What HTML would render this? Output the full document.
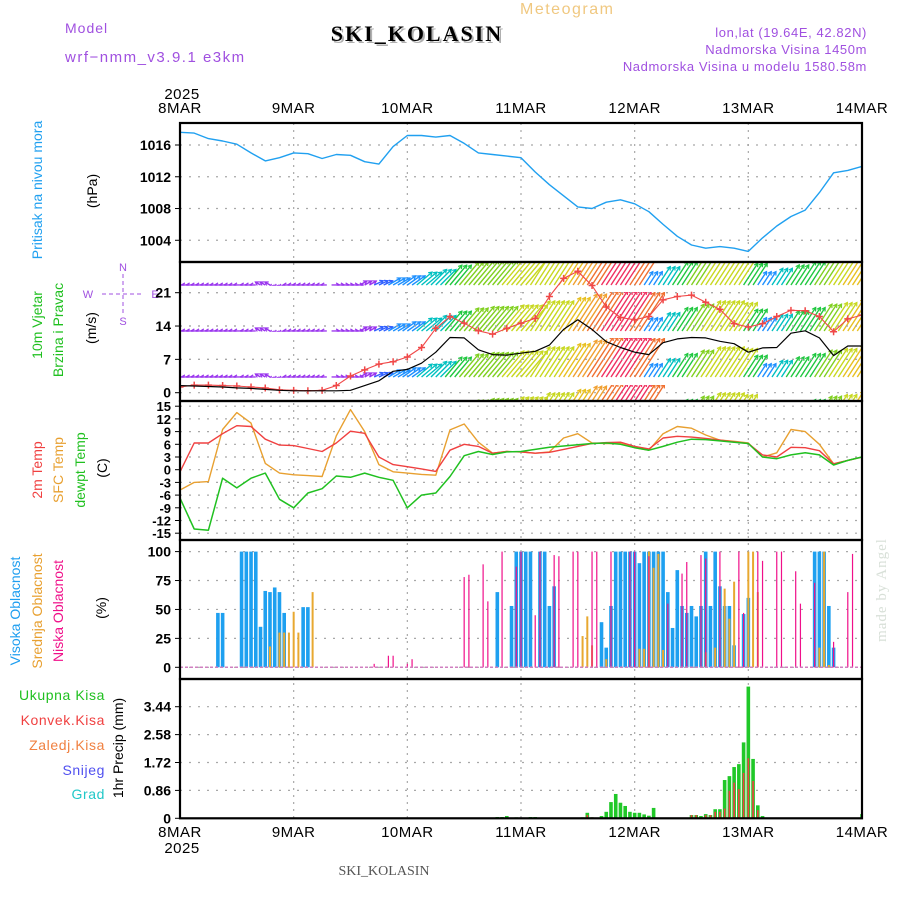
<!DOCTYPE html>
<html><head><meta charset="utf-8">
<style>
html,body{margin:0;padding:0;background:#fff;}
svg{display:block;font-family:"Liberation Sans",sans-serif;}
</style></head>
<body>
<svg id="chart" width="900" height="900" viewBox="0 0 900 900" xmlns="http://www.w3.org/2000/svg">
<defs>
<clipPath id="cW"><rect x="180" y="262" width="682" height="139"/></clipPath>
<clipPath id="cAll"><rect x="180" y="123" width="682" height="696"/></clipPath>
</defs>
<rect x="0" y="0" width="900" height="900" fill="#fff"/>
<!-- header -->
<text x="65" y="33" font-size="14" fill="#a050e0" letter-spacing="1">Model</text>
<text x="65" y="62" font-size="15" fill="#a050e0" letter-spacing="1.5">wrf−nmm_v3.9.1 e3km</text>
<text x="520" y="14" font-size="16" fill="#f0c880" letter-spacing="1.5">Meteogram</text>
<text x="419" y="43" font-size="22" font-weight="bold" text-anchor="middle" fill="#b0b0b0" letter-spacing="2" font-family="Liberation Serif, serif">SKI_KOLASIN</text>
<text x="417" y="41" font-size="22" font-weight="bold" text-anchor="middle" fill="#000" letter-spacing="2" font-family="Liberation Serif, serif">SKI_KOLASIN</text>
<text x="867" y="37" font-size="13" fill="#a050e0" text-anchor="end" letter-spacing="0.6">lon,lat (19.64E, 42.82N)</text>
<text x="867" y="54" font-size="13" fill="#a050e0" text-anchor="end" letter-spacing="0.6">Nadmorska Visina 1450m</text>
<text x="867" y="71" font-size="13" fill="#a050e0" text-anchor="end" letter-spacing="0.6">Nadmorska Visina u modelu 1580.58m</text>
<text x="182" y="99" font-size="15" text-anchor="middle" letter-spacing="0.5">2025</text>
<text x="182" y="853" font-size="15" text-anchor="middle" letter-spacing="0.5">2025</text>
<text x="384" y="875" font-size="14" text-anchor="middle" fill="#555" font-family="Liberation Serif, serif">SKI_KOLASIN</text>
<text transform="translate(886,590) rotate(-90)" font-size="15" text-anchor="middle" fill="#d8e0d8" font-family="Liberation Serif, serif" letter-spacing="1">made by Angel</text>

<!-- left axis titles -->
<text transform="translate(42,190) rotate(-90)" font-size="14" fill="#20a0f0" text-anchor="middle">Pritisak na nivou mora</text>
<text transform="translate(97,191) rotate(-90)" font-size="14" text-anchor="middle">(hPa)</text>
<text transform="translate(42,325) rotate(-90)" font-size="14" fill="#20c020" text-anchor="middle">10m Vjetar</text>
<text transform="translate(63,330) rotate(-90)" font-size="14" fill="#20c020" text-anchor="middle">Brzina i Pravac</text>
<text transform="translate(96,328) rotate(-90)" font-size="14" text-anchor="middle">(m/s)</text>
<g fill="#a050e0" font-size="11" text-anchor="middle">
<text x="123" y="271">N</text><text x="88" y="298">W</text><text x="155" y="298">E</text><text x="123" y="325">S</text>
<line x1="102" y1="294" x2="144" y2="294" stroke="#a050e0" stroke-dasharray="4,3"/>
<line x1="123" y1="274" x2="123" y2="315" stroke="#a050e0" stroke-dasharray="4,3"/>
</g>
<text transform="translate(42,470) rotate(-90)" font-size="14" fill="#f04040" text-anchor="middle">2m Temp</text>
<text transform="translate(63,470) rotate(-90)" font-size="14" fill="#e8a030" text-anchor="middle">SFC Temp</text>
<text transform="translate(85,470) rotate(-90)" font-size="14" fill="#20c020" text-anchor="middle">dewpt Temp</text>
<text transform="translate(107,468) rotate(-90)" font-size="14" text-anchor="middle">(C)</text>
<text transform="translate(20,611) rotate(-90)" font-size="14" fill="#1e9ef0" text-anchor="middle">Visoka Oblacnost</text>
<text transform="translate(42,611) rotate(-90)" font-size="14" fill="#e8a030" text-anchor="middle">Srednja Oblacnost</text>
<text transform="translate(63,611) rotate(-90)" font-size="14" fill="#f0108a" text-anchor="middle">Niska Oblacnost</text>
<text transform="translate(106,608) rotate(-90)" font-size="14" text-anchor="middle">(%)</text>
<g font-size="14" text-anchor="end" letter-spacing="0.6">
<text x="105" y="700" fill="#20c020">Ukupna Kisa</text>
<text x="105" y="725" fill="#f04040">Konvek.Kisa</text>
<text x="105" y="750" fill="#f08040">Zaledj.Kisa</text>
<text x="105" y="775" fill="#5050f0">Snijeg</text>
<text x="105" y="799" fill="#20c8c8">Grad</text>
</g>
<text transform="translate(123,748) rotate(-90)" font-size="14" text-anchor="middle">1hr Precip (mm)</text>

<g id="grid"></g>
<g id="bars" clip-path="url(#cAll)"></g>
<g id="wind" clip-path="url(#cW)"></g>
<g id="lines" clip-path="url(#cAll)"></g>
<g id="frames"></g>
<g id="labels"></g>
</svg>
<script>
// ---- data ----
const dayLabels=['8MAR','9MAR','10MAR','11MAR','12MAR','13MAR','14MAR'];
const pressTicks=[1016,1012,1008,1004];
const windTicks=[21,14,7,0];
const tempTicks=[15,12,9,6,3,0,-3,-6,-9,-12,-15];
const cloudTicks=[100,75,50,25,0];
const precipTicks=[3.44,2.58,1.72,0.86,0];
// 3-hourly series (49 points, 8MAR 00z .. 14MAR 00z)
const pressure=[1017.6,1017.5,1016.8,1016.5,1016.1,1015.0,1014.0,1014.4,1015.0,1014.9,1014.3,1014.8,1014.7,1013.9,1013.6,1015.8,1017.2,1017.2,1017.0,1017.2,1016.2,1015.0,1014.8,1014.6,1014.4,1012.6,1011.0,1009.6,1008.2,1008.0,1008.8,1009.1,1008.6,1007.6,1006.0,1004.5,1003.4,1003.0,1003.2,1003.0,1002.6,1004.3,1005.8,1007.0,1007.8,1010.0,1012.5,1012.8,1013.3];
const windSpeed=[1.5,1.4,1.3,1.2,1.0,0.9,0.7,0.5,0.4,0.4,0.4,0.4,0.5,1.5,2.5,4.5,4.9,6.2,8.5,11.6,11.5,9.0,8.0,7.9,8.3,8.7,10.0,13.3,15.3,13.3,10.7,9.5,8.5,8.0,10.5,11.3,11.6,11.5,10.8,10.3,8.5,9.4,9.5,12.5,13.0,11.5,7.8,9.8,9.8];
const windGust=[1.2,1.6,1.6,1.5,1.4,1.2,1.0,0.6,0.5,0.4,0.5,1.5,3.5,4.8,6.0,6.5,7.5,9.5,13.5,16.0,14.6,13.0,12.3,13.5,14.6,15.6,20.2,24.0,25.5,22.5,18.0,15.8,15.3,16.0,19.5,20.2,20.5,19.0,17.5,14.5,13.8,14.5,16.0,17.3,17.2,16.0,12.8,15.5,16.3];
const arrowSpeed=[4,4,4,4,4,3,3,3,3,3,3,4,4,4,5,7,8,10,11,13,15,16,16,17,17,18,18,20,22,24,25,25,23,8,11,14,16,18,18,17,13,8,10,12,14,16,17,19,19];
const arrowDir=[270,270,270,270,270,270,300,250,270,270,270,90,90,60,65,60,55,50,45,40,40,40,40,40,40,33,33,33,33,33,33,33,33,33,33,33,33,33,33,33,33,33,33,33,33,33,33,33,33];
const temp2m=[-0.5,6.3,6.3,8.5,10.4,10.2,7.2,5.8,5.7,5.0,4.3,6.3,9.1,8.6,3.0,1.2,0.7,0.2,-0.4,4.6,6.0,5.5,3.9,4.3,4.2,3.9,4.1,4.8,5.5,6.2,6.4,6.5,5.5,4.9,7.5,7.9,7.7,7.4,7.0,6.6,6.2,3.5,3.0,5.3,5.2,4.5,1.4,2.2,3.0];
const tempSfc=[-4.8,-3.0,-2.8,9.5,13.5,11.0,1.5,-0.8,-1.2,-1.4,-1.6,8.0,14.2,9.0,1.2,-0.5,-0.8,-1.1,-1.3,9.4,10.8,6.5,3.9,4.3,4.2,3.9,4.2,7.5,8.5,6.3,6.2,6.2,5.2,4.6,8.5,10.2,9.8,8.2,7.0,6.7,6.3,3.0,4.0,9.5,9.0,6.0,1.4,2.2,3.0];
const tempDew=[-6.7,-14.0,-14.3,-2.0,-4.3,-2.0,-0.8,-7.0,-9.0,-5.5,-4.5,-1.5,-1.8,-0.8,-1.8,-2.5,-9.0,-6.0,-5.5,-1.6,3.3,4.3,3.6,4.2,4.3,4.8,5.3,5.6,5.9,6.2,6.3,6.0,5.2,4.6,5.5,6.5,7.2,7.1,6.8,6.5,6.2,3.0,2.6,3.5,4.0,3.5,1.1,2.2,3.0];
// hourly cloud cover (hour index from 8MAR 00z, percent)
const highHours=[8,9,13,14,15,16,17,18,19,20,21,22,26,27,67,70,71,72,73,74,76,77,78,79,89,90,91,92,93,94,95,96,97,98,99,100,101,102,103,104,105,106,107,108,109,110,111,112,113,114,115,116,117,119,120,134,135,136,137,138];
const highVals=[47,47,100,100,100,100,35,66,65,69,65,47,52,52,65,53,100,100,100,100,100,100,53,70,39,17,53,100,100,100,100,100,90,100,100,100,100,100,65,34,84,53,47,53,44,53,100,53,100,70,53,53,19,46,60,100,100,100,53,17];
const midHours=[19,21,22,23,24,25,28,85,86,87,90,97,98,99,100,101,102,111,113,115,116,117,120,121,122,135,136,137];
const midVals=[18,30,30,30,48,30,65,27,44,19,7,16,16,100,86,98,15,13,17,68,42,74,100,100,65,17,100,2];
const lowHours=[41,44,45,48,49,60,61,64,65,68,71,72,75,76,79,80,83,84,87,88,91,95,96,99,103,106,107,110,111,114,118,119,122,123,126,127,130,131,134,138,141,142];
const lowVals=[3,10,10,3,7,78,80,89,57,100,87,100,45,100,97,96,100,100,100,100,100,100,100,96,55,81,91,97,94,100,100,47,100,92,100,100,83,55,73,22,65,98];
// hourly precipitation (mm)
const rainHours=[67,68,69,71,74,75,85,86,87,89,90,91,92,93,94,95,96,97,98,99,100,108,109,110,111,112,113,114,115,116,117,118,119,120,121,122,123,144];
const rainTotal=[0.04,0.04,0.07,0.03,0.04,0.04,0.03,0.17,0.03,0.07,0.2,0.5,0.75,0.48,0.38,0.2,0.17,0.17,0.12,0.08,0.32,0.1,0.1,0.07,0.13,0.1,0.28,0.28,1.18,1.3,1.58,1.67,2.34,4.06,1.83,0.4,0.07,0.13];
const convHours=[86,87,108,109,111,112,113,114,115,116,117,118,119,120,121,122];
const convVals=[0.1,0.03,0.1,0.1,0.1,0.1,0.2,0.2,0.3,0.85,1.1,0.9,1.4,1.85,1.15,0.25];

// ---- scales ----
const X0=180,X1=862;
const xH=h=>X0+h*(X1-X0)/144;
const xI=i=>xH(i*3);
const yP=p=>145+(1016-p)*7.94;
const yW=v=>392.7-v*4.762;
const yT=t=>469.7-t*4.233;
const yC=c=>667.3-c*1.157;
const yR=r=>818.3-r*32.44;
const panels=[[123,262,'pressure'],[262,401,'wind'],[401,540,'temperature'],[540,679,'cloud'],[679,818.3,'precip']];
const NS='http://www.w3.org/2000/svg';
function mk(tag,attrs,parent){const e=document.createElementNS(NS,tag);for(const k in attrs)e.setAttribute(k,attrs[k]);parent.appendChild(e);return e;}
const G=id=>document.getElementById(id);
const grid=G('grid'),bars=G('bars'),wind=G('wind'),lines=G('lines'),frames=G('frames'),labels=G('labels');

// grid
function hgrid(vals,fy,name,fmt){vals.forEach(v=>{const y=fy(v);
 const l=mk('line',{x1:X0,x2:X1,y1:y,y2:y,stroke:'#a8a8a8','stroke-dasharray':'2,7','stroke-width':1.2},grid);
 
 
 const tk=mk('line',{x1:X0-5,x2:X0,y1:y,y2:y,stroke:'#000'},grid);
 
 
 const t=mk('text',{x:X0-9,y:y+5,'text-anchor':'end','font-size':fmt||14,'font-weight':'bold'},labels);
 t.textContent=String(v);
 
 
});}
hgrid(pressTicks,yP,'pressure',14);
hgrid(windTicks,yW,'wind',14);
hgrid(tempTicks,yT,'temperature',13);
hgrid(cloudTicks,yC,'cloud',14);
hgrid(precipTicks,yR,'precip',14);
for(let d=1;d<6;d++){const x=xH(d*24);
 const l=mk('line',{x1:x,x2:x,y1:123,y2:818,stroke:'#a8a8a8','stroke-dasharray':'2,5','stroke-width':1.2},grid);
 
 }
dayLabels.forEach((d,i)=>{const x=xH(i*24);
 [[113],[837]].forEach(([y])=>{const t=mk('text',{x:x,y:y,'text-anchor':'middle','font-size':15,'letter-spacing':0.5},labels);
 t.textContent=d;
 
 });
});

// cloud bars
function cbars(hours,vals,w,color,name){hours.forEach((h,i)=>{const x=xH(h),y=yC(vals[i]);
 const r=mk('rect',{x:x-w/2,y:y,width:w,height:yC(0)-y,fill:color},bars);
 
 });}
cbars(highHours,highVals,3.6,'#1ea0f0','high-cloud-bar');
cbars(midHours,midVals,2,'#e8a830','mid-cloud-bar');
cbars(lowHours,lowVals,1.2,'#f0108a','low-cloud-bar');
const zl=mk('line',{x1:X0,x2:X1,y1:yC(0),y2:yC(0),stroke:'#d080c0','stroke-width':1.5,'stroke-dasharray':'3,2'},bars);


// precip bars
rainHours.forEach((h,i)=>{const x=xH(h),y=yR(rainTotal[i]);
 const r=mk('rect',{x:x-1.8,y:y,width:3.6,height:yR(0)-y,fill:'#20c828'},bars);
 
 });
convHours.forEach((h,i)=>{const x=xH(h),y=yR(convVals[i]);
 const r=mk('rect',{x:x-0.8,y:y,width:1.6,height:yR(0)-y,fill:'#f04040'},bars);
 
 });

// wind arrows
function wcolor(s){if(s<5)return'#9933ee';if(s<7)return'#3060ff';if(s<9)return'#1e90ff';if(s<12)return'#00c0c0';if(s<15)return'#20c840';if(s<17)return'#80d020';if(s<19)return'#c8d820';if(s<21)return'#e8c020';if(s<23)return'#f0a030';if(s<25)return'#f07030';return'#f03060';}
const baselines=[285,331,377,423];
arrowSpeed.forEach((s,i)=>{
 const a=arrowDir[i]*Math.PI/180;let L=s*2.0;
 let dx=L*Math.sin(a),dy=L*Math.cos(a);
 if(dy>40){const f=40/dy;dx*=f;dy*=f;}
 const col=wcolor(s);
 baselines.forEach(b=>{
  [-1,0,1].forEach(k=>{const x=xI(i)+k*4.74;
   const ln=mk('line',{x1:x,y1:b,x2:x+dx,y2:b-dy,stroke:col,'stroke-width':1.4},wind);
   
   
   const tx=x+dx,ty=b-dy,ang=Math.atan2(-dy,dx);
   const h1=mk('path',{d:`M${tx+4*Math.cos(ang+2.6)},${ty+4*Math.sin(ang+2.6)}L${tx},${ty}L${tx+4*Math.cos(ang-2.6)},${ty+4*Math.sin(ang-2.6)}`,stroke:col,fill:'none','stroke-width':1.2},wind);
   
   
  });
 });
});
// white gaps between arrow rows
[[285,292],[331,338],[377,385]].forEach(([a,b])=>{
 const r=mk('rect',{x:X0,y:a+0.8,width:X1-X0,height:b-a-0.8,fill:'#fff'},wind);
 
 });
windTicks.slice(0,3).forEach(v=>{const l=mk('line',{x1:X0,x2:X1,y1:yW(v),y2:yW(v),stroke:'#a8a8a8','stroke-dasharray':'2,7','stroke-width':1.2},wind);
 
 });

// lines
function series(vals,fy,color,name,w){const d=vals.map((v,i)=>(i?'L':'M')+xI(i).toFixed(1)+','+fy(v).toFixed(1)).join('');
 const p=mk('path',{d:d,fill:'none',stroke:color,'stroke-width':w||1.3,'stroke-linejoin':'round'},lines);
 
 }
series(pressure,yP,'#20a0f0','pressure-line',1.4);
series(windGust,yW,'#f04848','wind-gust-line',1.1);
windGust.forEach((v,i)=>{const x=xI(i),y=yW(v);
 const m=mk('path',{d:`M${x-3.5},${y}h7M${x},${y-3.5}v7`,stroke:'#f04848','stroke-width':1.5},lines);
 
 });
series(windSpeed,yW,'#000','wind-speed-line',1.2);
series(tempSfc,yT,'#e8a030','sfc-temp-line',1.4);
series(temp2m,yT,'#f04040','temp-2m-line',1.4);
series(tempDew,yT,'#20c020','dewpoint-line',1.5);

// frames
panels.forEach(([t,b,n])=>{const r=mk('rect',{x:X0,y:t,width:X1-X0,height:b-t,fill:'none',stroke:'#000','stroke-width':2.2},frames);
 
 });
</script>
</body></html>
